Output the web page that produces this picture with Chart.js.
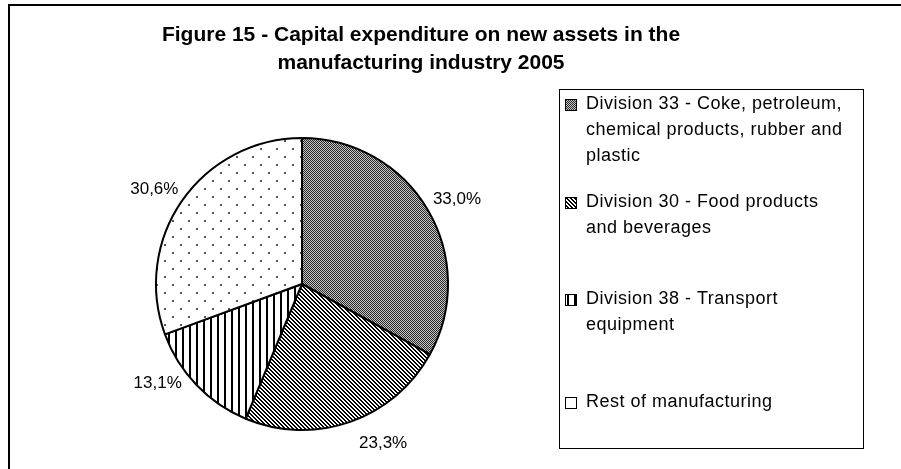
<!DOCTYPE html>
<html>
<head>
<meta charset="utf-8">
<script src="https://cdn.jsdelivr.net/npm/chart.js@4.4.1/dist/chart.umd.min.js"></script>
<style>
    body { margin: 0; background: #fff; }
    #frame {
        position: absolute; left: 8px; top: 4px; width: 900px; height: 470px;
        border-left: 2px solid #000; border-top: 2px solid #000;
    }
    #wrap { position: absolute; left: 0; top: 0; width: 901px; height: 469px; }
</style>
</head>
<body>
<div id="frame"></div>
<div id="wrap"><canvas id="pieChart"></canvas></div>
<script>
// Chart data
const titleLines = ['Figure 15 - Capital expenditure on new assets in the', 'manufacturing industry 2005'];
const categories = [
    ['Division 33 - Coke, petroleum,', 'chemical products, rubber and', 'plastic'],
    ['Division 30 - Food products', 'and beverages'],
    ['Division 38 - Transport', 'equipment'],
    ['Rest of manufacturing']
];
const shares = [33.0, 23.3, 13.1, 30.6];
const shareLabels = ['33,0%', '23,3%', '13,1%', '30,6%'];
const fillKinds = ['checker', 'diagonal', 'vertical', 'dots'];

// label placement tweaks (degrees / px), Excel didn't put them all on the mid angle
const labelTurn = [0, -6, 7, 0];
const labelGap = [10, 20, 10, 10];

const canvas = document.getElementById('pieChart');
const ctx = canvas.getContext('2d');

// Black & white fill patterns like the old Excel print styles
function makePattern(kind) {
    const tile = document.createElement('canvas');
    const t = tile.getContext('2d');
    if (kind === 'checker') {
        tile.width = 2; tile.height = 2;
        t.fillStyle = '#c4c4c4'; t.fillRect(0, 0, 2, 2);
        t.fillStyle = '#2a2a2a'; t.fillRect(0, 0, 1, 1); t.fillRect(1, 1, 1, 1);
    } else if (kind === 'diagonal') {
        tile.width = 4; tile.height = 4;
        t.fillStyle = '#fff'; t.fillRect(0, 0, 4, 4);
        t.fillStyle = '#000';
        for (let i = 0; i < 4; i++) {
            t.fillRect(i, i, 1, 1);
            t.fillRect((i + 1) % 4, i, 1, 1);
        }
    } else if (kind === 'vertical') {
        tile.width = 7; tile.height = 1;
        t.fillStyle = '#fff'; t.fillRect(0, 0, 7, 1);
        t.fillStyle = '#000'; t.fillRect(0, 0, 2, 1);
    } else {
        tile.width = 16; tile.height = 16;
        t.fillStyle = '#fff'; t.fillRect(0, 0, 16, 16);
        t.fillStyle = '#555';
        t.fillRect(4, 4, 2, 2);
        t.fillRect(12, 12, 2, 2);
    }
    return ctx.createPattern(tile, 'repeat');
}

const fills = fillKinds.map(makePattern);

// Percent labels outside the pie
const sliceLabels = {
    id: 'sliceLabels',
    afterDatasetsDraw(chart) {
        const c = chart.ctx;
        const arcs = chart.getDatasetMeta(0).data;
        c.save();
        c.font = '17px "Liberation Sans", Arial, sans-serif';
        c.fillStyle = '#000';
        c.textAlign = 'center';
        c.textBaseline = 'middle';
        arcs.forEach((arc, i) => {
            const p = arc.getProps(['x', 'y', 'startAngle', 'endAngle', 'outerRadius'], true);
            const mid = (p.startAngle + p.endAngle) / 2 + labelTurn[i] * Math.PI / 180;
            const w = c.measureText(shareLabels[i]).width;
            const r = p.outerRadius + labelGap[i];
            const x = p.x + Math.cos(mid) * (r + w / 2);
            const y = p.y + Math.sin(mid) * (r + 10);
            c.fillText(shareLabels[i], x, y);
        });
        c.restore();
    }
};

// Title and boxed legend
const frameText = {
    id: 'frameText',
    afterDraw(chart) {
        const c = chart.ctx;
        c.save();
        c.fillStyle = '#000';
        c.textAlign = 'center';
        c.textBaseline = 'middle';
        c.font = 'bold 21px "Liberation Sans", Arial, sans-serif';
        titleLines.forEach((line, i) => c.fillText(line, 421, 35 + i * 28));

        c.strokeStyle = '#000';
        c.lineWidth = 1;
        c.strokeRect(559.5, 89.5, 304, 359);

        c.font = '18px "Liberation Sans", Arial, sans-serif';
        c.letterSpacing = '0.5px';
        c.textAlign = 'left';
        const tops = [104, 202, 299, 402];
        categories.forEach((lines, i) => {
            const y0 = tops[i];
            c.fillStyle = fills[i];
            c.fillRect(566, y0 - 4, 10, 10);
            c.strokeRect(565.5, y0 - 4.5, 11, 11);
            c.fillStyle = '#000';
            lines.forEach((line, j) => c.fillText(line, 586, y0 + j * 26));
        });
        c.restore();
    }
};

new Chart(ctx, {
    type: 'pie',
    data: {
        labels: categories.map(l => l.join(' ')),
        datasets: [{
            data: shares,
            backgroundColor: fills,
            borderColor: '#000',
            borderWidth: 2
        }]
    },
    options: {
        responsive: true,
        maintainAspectRatio: false,
        animation: false,
        layout: { padding: { left: 155, right: 452, top: 137, bottom: 38 } },
        plugins: {
            legend: { display: false },
            tooltip: { enabled: false }
        }
    },
    plugins: [sliceLabels, frameText]
});
</script>
</body>
</html>
